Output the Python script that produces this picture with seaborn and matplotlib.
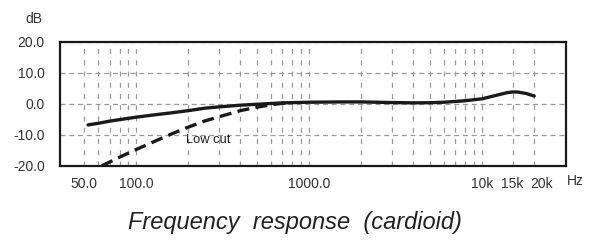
import matplotlib
matplotlib.use("Agg")
import matplotlib.pyplot as plt
import matplotlib.ticker as mticker
import matplotlib.transforms as mtransforms
import seaborn as sns
import pandas as pd

sns.set_style("white")
plt.rcParams['font.family'] = ['Liberation Sans', 'DejaVu Sans']

# cardioid response
freq = [52.6, 60, 70, 80, 100, 130, 160, 200, 250, 300, 400, 500, 700, 1000,
        1500, 2000, 3000, 4000, 5000, 6000, 7000, 8000, 10000, 12000, 14000,
        15000, 16000, 18000, 20000]
gain = [-6.8, -6.3, -5.6, -5.1, -4.3, -3.5, -2.9, -2.2, -1.4, -1.0, -0.45, -0.15,
        0.3, 0.5, 0.6, 0.6, 0.4, 0.3, 0.35, 0.5, 0.75, 1.0, 1.6, 2.7, 3.6,
        3.8, 3.8, 3.3, 2.5]

# with low cut engaged
lc_freq = [63, 80, 100, 130, 160, 200, 250, 300, 400, 500, 600, 700, 800]
lc_gain = [-20, -17.2, -14.7, -11.9, -9.7, -7.5, -5.5, -4.2, -2.2, -1.1, -0.3, 0.15, 0.35]

xtick_vals = [50, 100, 1000, 10000, 15000, 20000]
xtick_labels = ["50.0", "100.0", "1000.0", "10k", "15k", "20k"]
ytick_vals = [-20, -10, 0, 10, 20]
ytick_labels = ["-20.0", "-10.0", "0.0", "10.0", "20.0"]

resp = pd.DataFrame({"freq": freq, "gain": gain})
lowcut = pd.DataFrame({"freq": lc_freq, "gain": lc_gain})

fig = plt.figure(figsize=(6, 2.48), dpi=100)
ax = fig.add_axes([0.1, 0.331, 0.844, 0.501])

sns.lineplot(data=resp, x="freq", y="gain", ax=ax, color="#1a1a1a", lw=2.4)
sns.lineplot(data=lowcut, x="freq", y="gain", ax=ax, color="#1a1a1a", lw=2.4,
             dashes=False, linestyle=(0, (3.6, 1.9)))

ax.set_xscale("log")
ax.set_xlim(36.2, 30700)
ax.set_ylim(-20, 20)

# grid at every 1..9 step from 50 Hz to 10k, then 15k and 20k
grid_x = [m * d for d in (10, 100, 1000) for m in range(1, 10) if m * d >= 50]
grid_x += [10000, 15000, 20000]
ax.xaxis.set_major_locator(mticker.FixedLocator(xtick_vals))
ax.xaxis.set_major_formatter(mticker.FixedFormatter(xtick_labels))
ax.xaxis.set_minor_locator(mticker.FixedLocator(grid_x))
ax.xaxis.set_minor_formatter(mticker.NullFormatter())
ax.set_yticks(ytick_vals)
ax.set_yticklabels(ytick_labels)

ax.grid(which="both", axis="x", color="#9a9a9a", linestyle=(0, (4, 5)), lw=0.9)
ax.grid(which="major", axis="y", color="#9a9a9a", linestyle=(0, (4, 3)), lw=0.9)
ax.set_axisbelow(True)

ax.tick_params(axis="x", which="major", direction="out", length=4, width=1.2,
               color="#222222", labelsize=10, labelcolor="#333333", pad=4)
ax.tick_params(axis="x", which="minor", length=0)
ax.tick_params(axis="y", length=0, labelsize=10, labelcolor="#333333", pad=11)
ax.xaxis.get_major_ticks()[0].tick1line.set_visible(False)

# the 20k label sits a little right of its tick in the original
shift = mtransforms.ScaledTranslation(7 / 100, 0, fig.dpi_scale_trans)
lbl = ax.xaxis.get_major_ticks()[-1].label1
lbl.set_transform(lbl.get_transform() + shift)

for s in ax.spines.values():
    s.set_visible(True)
    s.set_color("#1a1a1a")
    s.set_linewidth(1.6)

ax.set_xlabel("")
ax.set_ylabel("")

ax.text(193, -11.7, "Low cut", fontsize=9.3, color="#222222", va="center", ha="left")
fig.text(34 / 600, 1 - 19 / 248, "dB", fontsize=10, color="#333333", ha="center", va="center")
fig.text(575 / 600, 1 - 181 / 248, "Hz", fontsize=10, color="#333333", ha="center", va="center")
fig.text(295 / 600, 1 - 222 / 248, "Frequency  response  (cardioid)", fontsize=17,
         style="italic", color="#222222", ha="center", va="center")

fig.savefig("out.png", dpi=100)
